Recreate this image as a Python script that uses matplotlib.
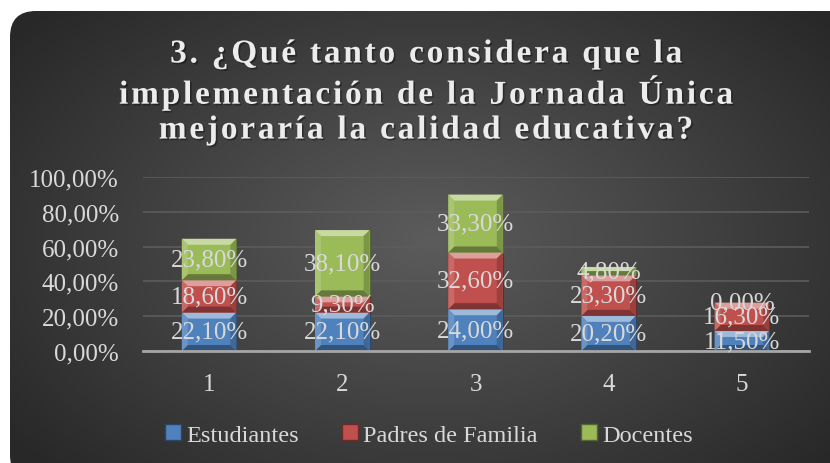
import numpy as np
import matplotlib
matplotlib.use('Agg')
import matplotlib.pyplot as plt
from matplotlib.patches import FancyBboxPatch, Polygon
import matplotlib.colors as mcolors
import matplotlib.patheffects as pe

# data
categories = ['1', '2', '3', '4', '5']
estudiantes = [22.1, 22.1, 24.0, 20.2, 11.5]
padres = [18.6, 9.3, 32.6, 23.3, 16.3]
docentes = [23.8, 38.1, 33.3, 4.8, 0.0]
series_names = ['Estudiantes', 'Padres de Familia', 'Docentes']
yticks = [0, 20, 40, 60, 80, 100]

colors = ['#4f81bd', '#c0504d', '#9bbb59']
txt = '#d9d9d9'
serif = ['Liberation Serif', 'DejaVu Serif']

W, H = 830, 464
fig = plt.figure(figsize=(W / 100, H / 100), dpi=100)
fig.patch.set_facecolor('white')

# rounded dark panel with radial gradient
bg = fig.add_axes([0, 0, 1, 1])
bg.set_xlim(0, W)
bg.set_ylim(H, 0)
bg.axis('off')
yy, xx = np.mgrid[0:H, 0:W]
r = np.sqrt(((xx - 430) / 520) ** 2 + ((yy - 240) / 330) ** 2)
shade = np.clip(0.36 - 0.2 * r, 0.16, 0.36)
img = np.dstack([shade, shade, shade])
im = bg.imshow(img, extent=[0, W, H, 0], zorder=0)
panel = FancyBboxPatch((10, 12), 850, 470, boxstyle='round,pad=0,rounding_size=26',
                       transform=bg.transData, facecolor='none', edgecolor='none')
bg.add_patch(panel)
im.set_clip_path(panel)

# plot area
ax = fig.add_axes([142.5 / W, 1 - 352 / H, 666 / W, 174 / H])
ax.set_facecolor('none')
x = np.arange(1, len(categories) + 1)
width = 0.41

def shift(c, f):
    rgb = np.array(mcolors.to_rgb(c))
    if f > 0:
        rgb = rgb + (1 - rgb) * f
    else:
        rgb = rgb * (1 + f)
    return np.clip(rgb, 0, 1)

bx = 6 / 133.2
by = 6 / 1.74
bottom = np.zeros(len(x))
for vals, col in zip([estudiantes, padres, docentes], colors):
    vals = np.array(vals)
    ax.bar(x, vals, width, bottom=bottom, color=col, edgecolor=shift(col, -0.45),
           linewidth=0.8, zorder=3)
    for xi, b0, v in zip(x, bottom, vals):
        lab = ('%.2f%%' % v).replace('.', ',')
        ax.text(xi, b0 + v / 2, lab, ha='center', va='center', fontsize=18,
                color=txt, family=serif, zorder=6)
        if v <= 0:
            continue
        x0, x1 = xi - width / 2, xi + width / 2
        y0, y1 = b0, b0 + v
        dy = min(by, v / 2)
        ix0, ix1 = x0 + bx, x1 - bx
        iy0, iy1 = y0 + dy, y1 - dy
        ax.add_patch(Polygon([(x0, y1), (x1, y1), (ix1, iy1), (ix0, iy1)],
                             closed=True, color=shift(col, 0.45), lw=0, zorder=4))
        ax.add_patch(Polygon([(x0, y0), (x1, y0), (ix1, iy0), (ix0, iy0)],
                             closed=True, color=shift(col, -0.35), lw=0, zorder=4))
        ax.add_patch(Polygon([(x0, y0), (x0, y1), (ix0, iy1), (ix0, iy0)],
                             closed=True, color=shift(col, 0.15), lw=0, zorder=4))
        ax.add_patch(Polygon([(x1, y0), (x1, y1), (ix1, iy1), (ix1, iy0)],
                             closed=True, color=shift(col, -0.2), lw=0, zorder=4))
    bottom = bottom + vals

ax.set_xlim(0.5, 5.5)
ax.set_ylim(0, 100)
ax.set_yticks(yticks)
ax.set_yticklabels([('%.2f%%' % t).replace('.', ',') for t in yticks],
                   fontsize=18, color=txt, family=serif)
ax.set_xticks(x)
ax.set_xticklabels(categories, fontsize=18, color=txt, family=serif)
ax.tick_params(length=0)
ax.tick_params(axis='x', pad=16)
ax.tick_params(axis='y', pad=17)
ax.grid(axis='y', color='#5c5c5c', linewidth=1.2, zorder=0)
ax.set_axisbelow(True)
for s in ['top', 'right', 'left']:
    ax.spines[s].set_visible(False)
ax.spines['bottom'].set_color('#a6a6a6')
ax.spines['bottom'].set_linewidth(2)
ax.spines['bottom'].set_zorder(5)

# title, spaced out letters
def spaced(s):
    return '\n'.join('\u200a'.join(line) for line in s.split('\n'))

title = '3. ¿Qué tanto considera que la\nimplementación de la Jornada Única\nmejoraría la calidad educativa?'
fig.text(426 / W, 1 - 93 / H, spaced(title),
         ha='center', va='center', fontsize=24, fontweight='bold', color='#ececec',
         family=serif, linespacing=1.16,
         path_effects=[pe.withSimplePatchShadow(offset=(1.2, -1.2), shadow_rgbFace='black', alpha=0.35)])

# legend
handles = [plt.Rectangle((0, 0), 1, 1, facecolor=c, edgecolor=shift(c, -0.45)) for c in colors]
leg = fig.legend(handles, series_names, loc='center', bbox_to_anchor=(429 / W, 1 - 436 / H),
                 ncol=3, frameon=False, handlelength=0.65, handleheight=0.65,
                 handletextpad=0.2, columnspacing=1.8,
                 prop={'family': serif, 'size': 17.5})
for t in leg.get_texts():
    t.set_color(txt)

fig.savefig('out.png', dpi=100, facecolor=fig.get_facecolor())
